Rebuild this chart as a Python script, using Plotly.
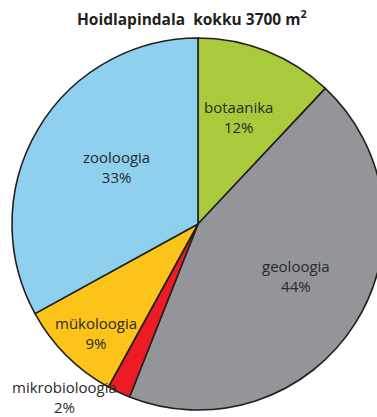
import plotly.graph_objects as go

# ---- data ----
categories = ["botaanika", "geoloogia", "mikrobioloogia", "mükoloogia", "zooloogia"]
shares = [12, 44, 2, 9, 33]
pct_labels = ["12%", "44%", "2%", "9%", "33%"]
title_text = "Hoidlapindala\u00a0\u00a0kokku 3700 m<sup>2</sup>"

# ---- style ----
colors = ["#A9CB3B", "#939598", "#ED1C24", "#FCC419", "#8ED0EE"]
W, H = 384, 417
cx, cy, r = 198, 224, 186
# label block pixel anchors (x centre, y) and vertical anchor
label_pos = [(238, 117, "middle"), (296, 276, "middle"), (64, 375, "top"),
             (96, 333, "middle"), (116, 167, "middle")]
font_family = "Open Sans, Noto Sans, sans-serif"
text_color = "#2a2a2a"

fig = go.Figure()
fig.add_trace(go.Pie(
    labels=categories,
    values=shares,
    sort=False,
    direction="clockwise",
    rotation=0,
    marker=dict(colors=colors, line=dict(color="#231F20", width=1.6)),
    textinfo="none",
    hoverinfo="none",
    showlegend=False,
    domain=dict(x=[(cx - r) / W, min(1, (cx + r) / W)],
                y=[1 - (cy + r) / H, 1 - (cy - r) / H]),
))

annotations = []
for name, pct, (lx, ly, anc) in zip(categories, pct_labels, label_pos):
    annotations.append(dict(x=lx / W, y=1 - ly / H,
                            xref="paper", yref="paper",
                            text=name + "<br>" + pct, showarrow=False,
                            xanchor="center", yanchor=anc,
                            align="center",
                            font=dict(family=font_family, size=15, color=text_color)))

annotations.append(dict(x=192 / W, y=1 - 18 / H, xref="paper", yref="paper",
                        text="<b>" + title_text + "</b>", showarrow=False,
                        xanchor="center", yanchor="middle",
                        font=dict(family=font_family, size=15.5, color="#231F20")))

fig.update_layout(
    width=W, height=H,
    margin=dict(l=0, r=0, t=0, b=0),
    paper_bgcolor="white",
    plot_bgcolor="white",
    annotations=annotations,
)

fig.write_html("out.html", config={"displayModeBar": False, "staticPlot": True},
               post_script="document.documentElement.style.overflow='hidden';document.body.style.overflow='hidden';")
